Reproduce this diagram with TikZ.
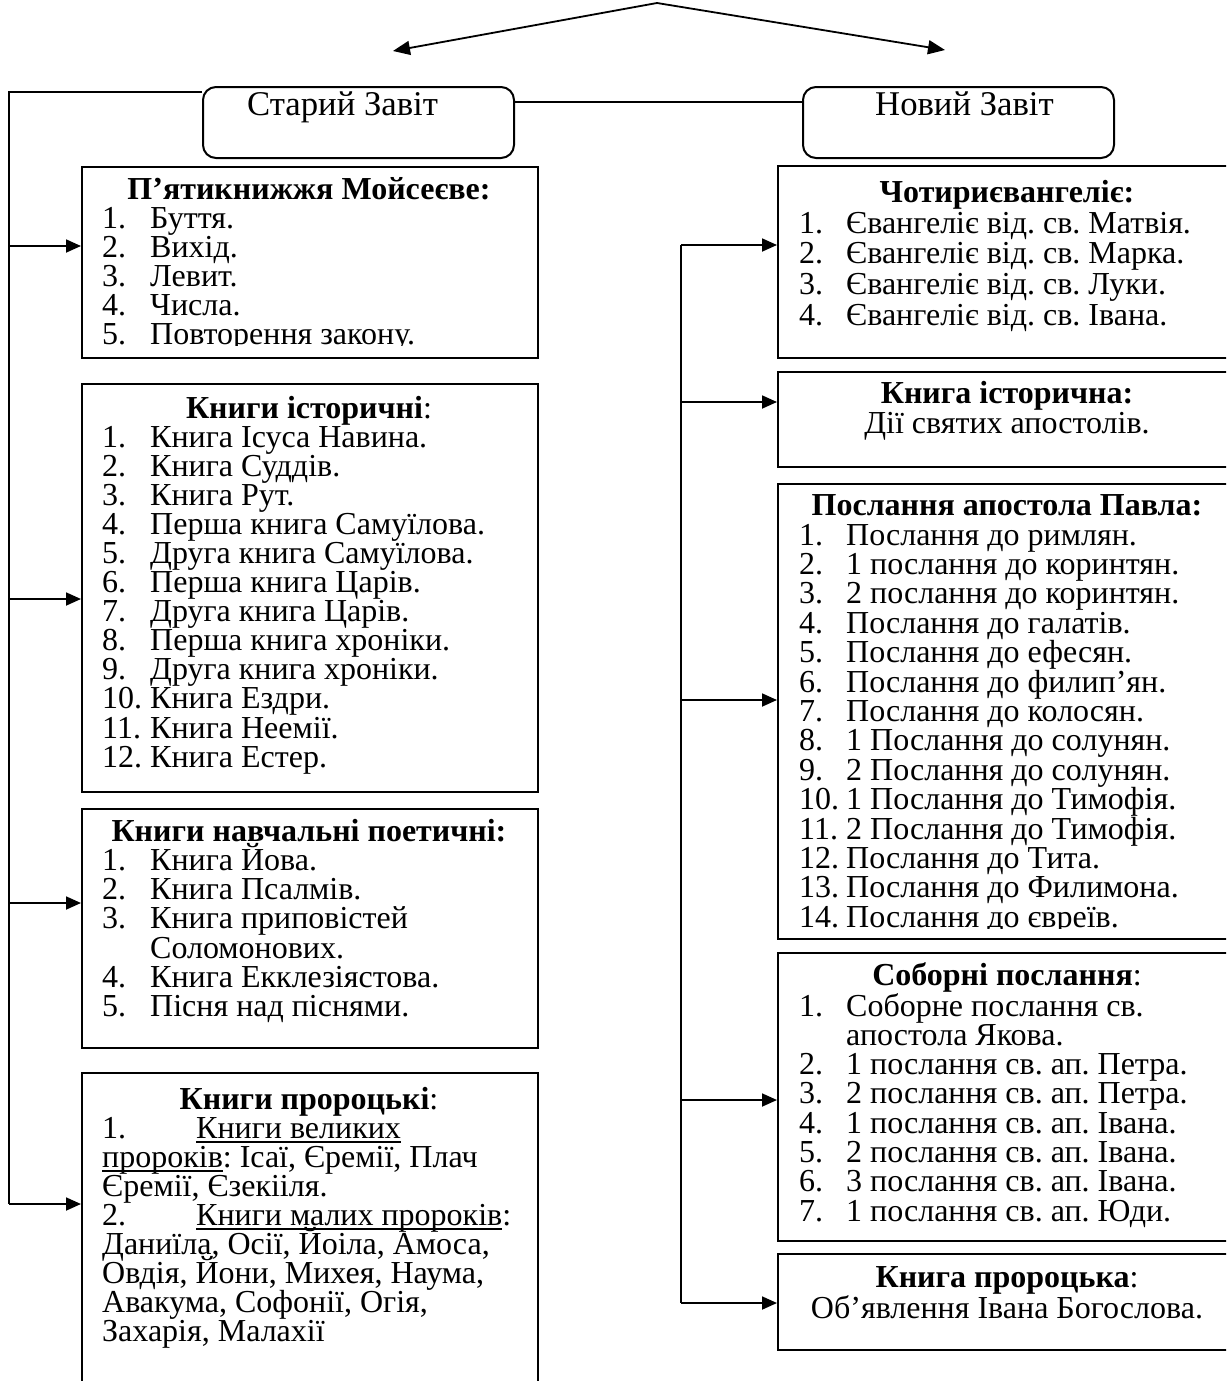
\documentclass[tikz,border=0pt]{standalone}
\usepackage{fontspec}
\setmainfont{Liberation Serif}
\frenchspacing
\newcommand\myul[1]{\leavevmode\setbox0\hbox{#1}\rlap{\rule[-4.5pt]{\wd0}{1.6pt}}\box0}
\usetikzlibrary{arrows.meta}
\begin{document}
\begin{tikzpicture}[x=1pt,y=-1pt,
  box/.style={draw, line width=2pt, rectangle, anchor=north west, inner sep=0pt},
  hdr/.style={draw, line width=2pt, rounded corners=13pt, rectangle, anchor=north west, inner sep=0pt},
  txt/.style={anchor=base west, inner sep=0pt, text height=21pt, text depth=5pt, font=\fontsize{32}{30}\selectfont\frenchspacing},
  ttl/.style={anchor=base, inner sep=0pt, text height=21pt, text depth=5pt, font=\fontsize{32}{30}\selectfont\frenchspacing},
  htxt/.style={anchor=base west, inner sep=0pt, font=\fontsize{34.7}{35}\selectfont},
  conn/.style={line width=1.8pt},
  arr/.style={conn, -{Triangle[length=15pt,width=13pt]}},
  tarr/.style={conn, {Triangle[length=17pt,width=14pt]}-{Triangle[length=17pt,width=14pt]}}
]
\useasboundingbox (0,0) rectangle (1226,1381);
\clip (0,0) rectangle (1226,1381);

% ---------- header boxes ----------
\node[hdr, minimum width=311pt, minimum height=71pt] (old) at (202,86) {};
\node[hdr, minimum width=311pt, minimum height=71pt] (new) at (802,86) {};
\node[htxt] (oldt) at (247,115) {Старий Завіт};
\node[htxt] (newt) at (875,115) {Новий Завіт};

% ---------- top arrows ----------
\coordinate (apex) at (657,3);
\coordinate (tipL) at (393,51);
\coordinate (tipR) at (945,50);
\draw[tarr] (tipL) -- (apex) -- (tipR);

% ---------- left column boxes ----------
\node[box, minimum width=456pt, minimum height=191pt] (b1) at (81,166) {};
\node[box, minimum width=456pt, minimum height=408pt] (b2) at (81,383) {};
\node[box, minimum width=456pt, minimum height=239pt] (b3) at (81,808) {};
\node[box, minimum width=456pt, minimum height=340pt] (b4) at (81,1072) {};

% ---------- right column boxes ----------
\node[box, minimum width=460pt, minimum height=192pt] (r1) at (777,165) {};
\node[box, minimum width=460pt, minimum height=95pt] (r2) at (777,371) {};
\node[box, minimum width=460pt, minimum height=455pt] (r3) at (777,483) {};
\node[box, minimum width=460pt, minimum height=288pt] (r4) at (777,952) {};
\node[box, minimum width=460pt, minimum height=96pt] (r5) at (777,1253) {};

% ---------- connectors ----------
\coordinate (LT) at (9,92);
\coordinate (LB) at (9,1204);
\draw[conn] (old.west |- LT) -- (LT) -- (LB);
\draw[conn] ([yshift=20.5pt]old.east) -- ([yshift=20.5pt]new.west);
\coordinate (L1) at (9,246);
\coordinate (L2) at (9,599);
\coordinate (L3) at (9,903);
\draw[arr] (L1) -- (L1 -| b1.west);
\draw[arr] (L2) -- (L2 -| b2.west);
\draw[arr] (L3) -- (L3 -| b3.west);
\draw[arr] (LB) -- (LB -| b4.west);

\coordinate (RT) at (681,245);
\coordinate (RB) at (681,1303);
\draw[conn] (RT) -- (RB);
\coordinate (R2) at (681,402);
\coordinate (R3) at (681,700);
\coordinate (R4) at (681,1100);
\draw[arr] (RT) -- (RT -| r1.west);
\draw[arr] (R2) -- (R2 -| r2.west);
\draw[arr] (R3) -- (R3 -| r3.west);
\draw[arr] (R4) -- (R4 -| r4.west);
\draw[arr] (RB) -- (RB -| r5.west);

% ---------- box 1 ----------
\begin{scope}
\clip (81,166) rectangle (537,345.5);
\node[ttl] (b1h) at (309,199) {\textbf{П’ятикнижжя Мойсеєве:}};
\foreach \t [count=\k] in {{Буття.},{Вихід.},{Левит.},{Числа.},{Повторення закону.}}{
  \node[txt] (b1n\k) at (102,{228+29.2*(\k-1)}) {\k.};
  \node[txt] (b1t\k) at (150,{228+29.2*(\k-1)}) {\t};
}
\end{scope}

% ---------- box 2 ----------
\node[ttl] (b2h) at (309,418) {\textbf{Книги історичні}:};
\foreach \t [count=\k] in {{Книга Ісуса Навина.},{Книга Суддів.},{Книга Рут.},{Перша книга Самуїлова.},{Друга книга Самуїлова.},{Перша книга Царів.},{Друга книга Царів.},{Перша книга хроніки.},{Друга книга хроніки.},{Книга Ездри.},{Книга Неемії.},{Книга Естер.}}{
  \node[txt] (b2n\k) at (102,{447+29.1*(\k-1)}) {\k.};
  \node[txt] (b2t\k) at (150,{447+29.1*(\k-1)}) {\t};
}

% ---------- box 3 ----------
\node[ttl] (b3h) at (309,841) {\textbf{Книги навчальні поетичні:}};
\node[txt] (b3n1) at (102,870.3) {1.};
\node[txt] (b3t1) at (150,870.3) {Книга Йова.};
\node[txt] (b3n2) at (102,899.6) {2.};
\node[txt] (b3t2) at (150,899.6) {Книга Псалмів.};
\node[txt] (b3n3) at (102,928.9) {3.};
\node[txt] (b3t3) at (150,928.9) {Книга приповістей};
\node[txt] (b3t3b) at (150,958.2) {Соломонових.};
\node[txt] (b3n4) at (102,987.5) {4.};
\node[txt] (b3t4) at (150,987.5) {Книга Екклезіястова.};
\node[txt] (b3n5) at (102,1016.8) {5.};
\node[txt] (b3t5) at (150,1016.8) {Пісня над піснями.};

% ---------- box 4 ----------
\node[ttl] (b4h) at (309,1109) {\textbf{Книги пророцькі}:};
\node[txt] (b4n1) at (102,1138) {1.};
\node[txt] (b4a) at (196,1138) {\myul{Книги великих}};
\node[txt] (b4b) at (102,1167) {\myul{пророків}: Ісаї, Єремії, Плач};
\node[txt] (b4c) at (102,1196) {Єремії, Єзекііля.};
\node[txt] (b4n2) at (102,1225) {2.};
\node[txt] (b4d) at (196,1225) {\myul{Книги малих пророків}:};
\node[txt] (b4e) at (102,1254) {Даниїла, Осії, Йоіла, Амоса,};
\node[txt] (b4f) at (102,1283) {Овдія, Йони, Михея, Наума,};
\node[txt] (b4g) at (102,1312) {Авакума, Софонії, Огія,};
\node[txt] (b4i) at (102,1341) {Захарія, Малахії};

% ---------- right box 1 ----------
\node[ttl] (r1h) at (1007,202) {\textbf{Чотириєвангеліє:}};
\foreach \t [count=\k] in {{Євангеліє від. св. Матвія.},{Євангеліє від. св. Марка.},{Євангеліє від. св. Луки.},{Євангеліє від. св. Івана.}}{
  \node[txt] (r1n\k) at (799,{233+30.8*(\k-1)}) {\k.};
  \node[txt] (r1t\k) at (846,{233+30.8*(\k-1)}) {\t};
}

% ---------- right box 2 ----------
\node[ttl] (r2h) at (1007,403) {\textbf{Книга історична:}};
\node[ttl] (r2t) at (1007,433) {Дії святих апостолів.};

% ---------- right box 3 ----------
\begin{scope}
\clip (777,483) rectangle (1237,928.5);
\node[ttl] (r3h) at (1007,515) {\textbf{Послання апостола Павла:}};
\foreach \t [count=\k] in {{Послання до римлян.},{1 послання до коринтян.},{2 послання до коринтян.},{Послання до галатів.},{Послання до ефесян.},{Послання до филип’ян.},{Послання до колосян.},{1 Послання до солунян.},{2 Послання до солунян.},{1 Послання до Тимофія.},{2 Послання до Тимофія.},{Послання до Тита.},{Послання до Филимона.},{Послання до євреїв.}}{
  \node[txt] (r3n\k) at (799,{545+29.4*(\k-1)}) {\k.};
  \node[txt] (r3t\k) at (846,{545+29.4*(\k-1)}) {\t};
}
\end{scope}

% ---------- right box 4 ----------
\node[ttl] (r4h) at (1007,985) {\textbf{Соборні послання}:};
\node[txt] (r4n1) at (799,1016) {1.};
\node[txt] (r4t1) at (846,1016) {Соборне послання св.};
\node[txt] (r4t1b) at (846,1045.3) {апостола Якова.};
\foreach \t [count=\k from 2] in {{1 послання св. ап. Петра.},{2 послання св. ап. Петра.},{1 послання св. ап. Івана.},{2 послання св. ап. Івана.},{3 послання св. ап. Івана.},{1 послання св. ап. Юди.}}{
  \node[txt] (r4n\k) at (799,{1074.6+29.3*(\k-2)}) {\k.};
  \node[txt] (r4t\k) at (846,{1074.6+29.3*(\k-2)}) {\t};
}

% ---------- right box 5 ----------
\node[ttl] (r5h) at (1007,1287) {\textbf{Книга пророцька}:};
\node[ttl] (r5t) at (1007,1318) {Об’явлення Івана Богослова.};
\end{tikzpicture}
\end{document}
